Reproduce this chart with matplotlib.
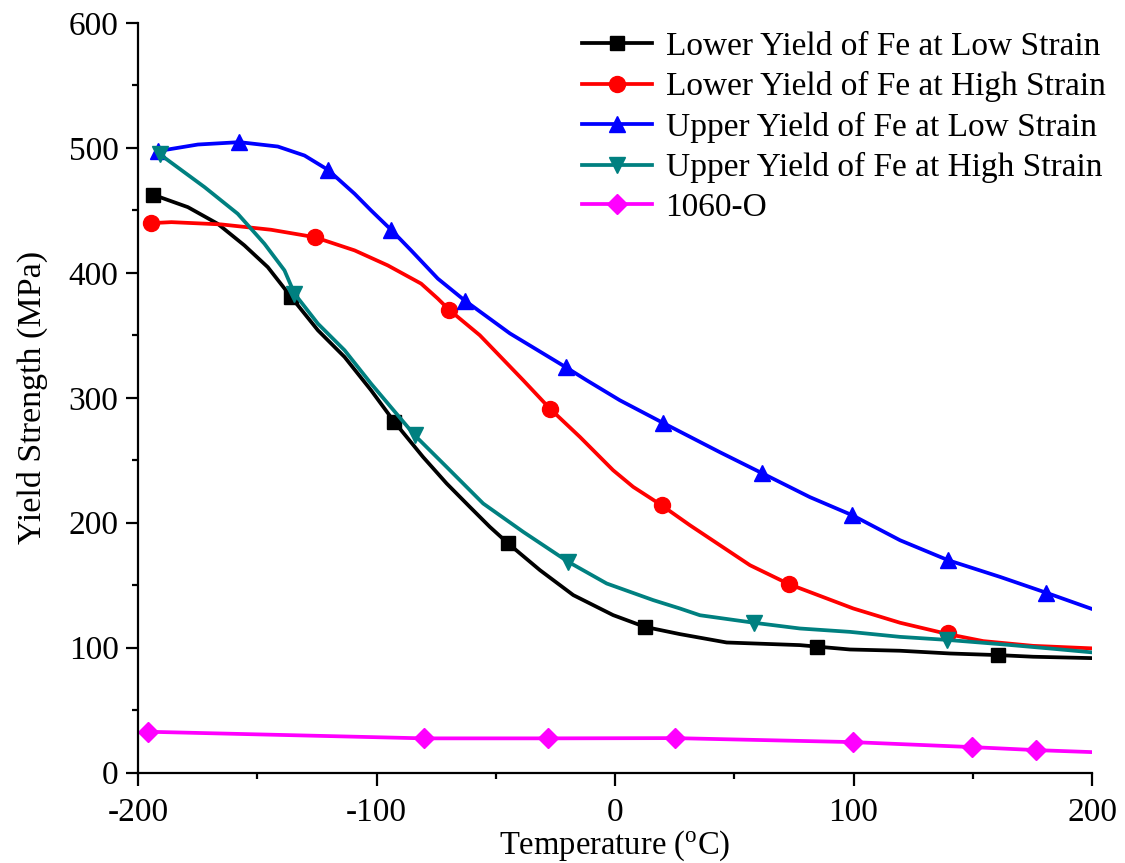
import matplotlib
matplotlib.use("Agg")
import matplotlib.pyplot as plt
from matplotlib.legend_handler import HandlerTuple

plt.rcParams['font.family'] = ['Liberation Serif', 'DejaVu Serif']
plt.rcParams['mathtext.fontset'] = 'custom'
plt.rcParams['mathtext.rm'] = 'Liberation Serif'
plt.rcParams['mathtext.it'] = 'Liberation Serif:italic'
plt.rcParams['axes.unicode_minus'] = False

# ---------------- data ----------------
labels = ["Lower Yield of Fe at Low Strain", "Lower Yield of Fe at High Strain",
          "Upper Yield of Fe at Low Strain", "Upper Yield of Fe at High Strain", "1060-O"]

# Lower yield, low strain (black)
ll_x = [-193.8, -179.1, -166.6, -155.4, -145.6, -135.8, -124.6, -113.4, -102.3, -92.5, -80.5,
        -70.6, -60.9, -52.5, -44.8, -31.5, -17.5, -0.8, 12.5, 27.2, 46.8, 77.5, 98.5, 119.5,
        140.5, 160.7, 175.3, 200]
ll_y = [462.5, 452.5, 439.2, 421.9, 404.5, 380.6, 354, 332.6, 306, 280.6, 252.6,
        231.4, 212.7, 196.7, 183.4, 162.1, 142.1, 126.1, 116.7, 110.9, 104.2, 102.1, 98.6, 97.6,
        95.4, 94.1, 92.8, 91.7]
ll_mx = [-193.8, -135.8, -92.5, -44.8, 12.5, 84.8, 160.7]
ll_my = [462.5, 380.6, 280.6, 183.4, 116.7, 100.5, 94.1]

# Lower yield, high strain (red)
lh_x = [-194.5, -186, -165.2, -144.2, -126, -109.2, -95.3, -81.3, -74.3, -69.7, -56.7, -38.5,
        -27.3, -14.7, -0.8, 7.6, 19.5, 31.4, 56.6, 72.9, 99.9, 119.5, 139.6, 154.4, 175.3, 200]
lh_y = [439.7, 440.5, 438.7, 434.4, 428.5, 417.9, 405.9, 391.3, 379.3, 370.6, 350, 314,
        291.3, 268.6, 242, 228.7, 214, 198, 166, 150.9, 131.4, 120, 110.9, 105.3, 101.5, 99.5]
lh_mx = [-194.5, -126, -69.7, -27.3, 19.5, 72.9, 139.6]
lh_my = [439.7, 428.5, 370.6, 291.3, 214, 150.9, 111.5]

# Upper yield, low strain (blue)
ul_x = [-191.7, -174.9, -157.5, -141.4, -130.2, -120.4, -109.2, -102.3, -93.9, -85.5, -74.3,
        -63, -44.1, -20.6, -11.9, 2, 20.2, 44, 61.7, 81.7, 99.5, 119.5, 139.7, 161.4, 180.8, 200]
ul_y = [497.3, 502.6, 504.5, 501, 493.8, 482.4, 463.2, 449.9, 434.4, 417.9, 395.3,
        377.8, 351.5, 324.4, 314, 298, 279.8, 256.4, 239.6, 220.5, 206, 186, 170, 156.7, 144, 131]
ul_mx = [-191.7, -157.5, -120.4, -93.9, -63, -20.6, 20.2, 61.7, 99.5, 139.7, 180.8]
ul_my = [497.3, 504.5, 482.4, 434.4, 377.8, 324.4, 279.8, 239.6, 206, 170, 144]

# Upper yield, high strain (teal)
uh_x = [-191, -172.1, -158.2, -147, -138.6, -134.4, -124.6, -113.4, -102.3, -84, -70.6, -55.3,
        -38.5, -19.6, -3.5, 16, 27.2, 35.6, 58.2, 77.5, 98.5, 119.5, 139.1, 161.4, 182.4, 200]
uh_y = [495, 468.5, 447.2, 423.2, 401.9, 383.3, 359.3, 338, 311.3, 270, 244.6, 215.4,
        192.7, 168.7, 151.4, 138.1, 131.4, 126, 120, 115.4, 112.7, 108.7, 106.3, 102.9, 99.4, 96.3]
uh_mx = [-191, -134.4, -84, -19.6, 58.2, 139.1]
uh_my = [495, 383.3, 270, 168.7, 120, 106]

# 1060-O (magenta)
al_x = [-196, -80.2, -28, 25, 99.7, 149.8, 176.5, 200]
al_y = [32.8, 27.5, 27.5, 27.7, 24.5, 20.5, 18.1, 16.5]
al_mx = [-196, -80.2, -28, 25, 99.7, 149.8, 176.5]
al_my = [32.8, 27.5, 27.5, 27.7, 24.5, 20.5, 18.1]

series = [
    (ll_x, ll_y, ll_mx, ll_my, "black", "s", 10),
    (lh_x, lh_y, lh_mx, lh_my, "#FF0000", "o", 11.5),
    (ul_x, ul_y, ul_mx, ul_my, "#0000FF", "^", 12),
    (uh_x, uh_y, uh_mx, uh_my, "#008080", "v", 12),
    (al_x, al_y, al_mx, al_my, "#FF00FF", "D", 10),
]

fig = plt.figure(figsize=(11.25, 8.63), dpi=100)
ax = fig.add_axes([0.1227, 0.1046, 0.848, 0.869])

handles = []
for (x, y, mx, my, c, m, ms) in series:
    ln, = ax.plot(x, y, '-', color=c, lw=2.7, solid_joinstyle='round')
    mk, = ax.plot(mx, my, linestyle='none', marker=m, color=c, ms=ms, mec=c)
    handles.append((ln, mk))

ax.set_xlim(-200, 200)
ax.set_ylim(0, 600)
ax.set_xticks([-200, -100, 0, 100, 200])
ax.set_xticks([-150, -50, 50, 150], minor=True)
ax.set_yticks([0, 100, 200, 300, 400, 500, 600])
ax.set_yticks([50, 150, 250, 350, 450, 550], minor=True)
ax.tick_params(which='major', direction='out', length=9, width=1.6, labelsize=24)
ax.tick_params(axis='x', which='major', pad=9)
ax.tick_params(axis='y', which='major', pad=5)
ax.tick_params(which='minor', direction='out', length=4.5, width=1.6)
for s in ['top', 'right']:
    ax.spines[s].set_visible(False)
for s in ['left', 'bottom']:
    ax.spines[s].set_linewidth(1.6)

ax.set_xlabel("Temperature ($^{\\mathrm{o}}$C)", fontsize=23.5, labelpad=0)
ax.set_ylabel("Yield Strength (MPa)", fontsize=24.5, labelpad=15)

ax.legend(handles, labels, handler_map={tuple: HandlerTuple(ndivide=1)},
          loc='upper right', bbox_to_anchor=(1.035, 1.015), frameon=False,
          fontsize=24, handlelength=2.1, labelspacing=0.28, handletextpad=0.4,
          borderaxespad=0.2, numpoints=1)

fig.savefig("out.png", dpi=100)
